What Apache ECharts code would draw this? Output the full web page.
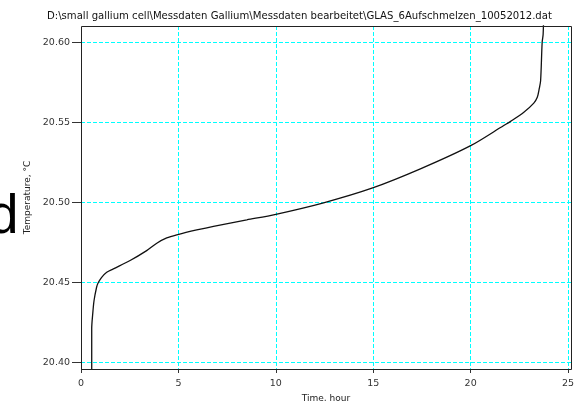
<!DOCTYPE html>
<html>
<head>
<meta charset="utf-8">
<title>GLAS_6Aufschmelzen_10052012</title>
<script src="https://cdn.jsdelivr.net/npm/echarts@6/dist/echarts.min.js"></script>
<style>
  html, body { margin: 0; padding: 0; background: #fff; }
  #chart { width: 574px; height: 401px; }
</style>
</head>
<body>
<div id="chart"></div>
<script>
// measured melting curve (time in hours, temperature in °C)
const timeHours = [
  0.55, 0.55, 0.60, 0.67, 0.80, 0.87, 1.06, 1.32, 1.66, 2.52,
  3.37, 3.89, 4.40, 4.97, 5.94, 6.80, 8.51, 10.0, 12.45, 14.97,
  17.42, 20.0, 21.7, 22.05, 22.73, 23.24, 23.42, 23.52, 23.59, 23.67,
  23.72, 23.75
]
const temperature = [
  20.39, 20.421, 20.430, 20.4386, 20.4469, 20.4494, 20.4531, 20.4563, 20.4584, 20.4636,
  20.4698, 20.4744, 20.4777, 20.4798, 20.4827, 20.485, 20.489, 20.4925, 20.4997, 20.509,
  20.5209, 20.5354, 20.548, 20.5506, 20.5563, 20.562, 20.5656, 20.571, 20.576, 20.60,
  20.605, 20.62
]

const titleText = 'D:\\small gallium cell\\Messdaten Gallium\\Messdaten bearbeitet\\GLAS_6Aufschmelzen_10052012.dat'

// plot frame
const gridLeft = 81
const gridTop = 26
const gridWidth = 490
const gridHeight = 343

const gridLine = { color: ['#00ffff'], type: 'dashed', width: 1 }

const chart = echarts.init(document.getElementById('chart'))

const option = {
  animation: false,
  backgroundColor: '#fff',
  textStyle: { fontFamily: 'DejaVu Sans' },
  title: {
    text: titleText,
    left: 42,
    top: 6,
    textStyle: { fontFamily: 'DejaVu Sans', fontSize: 10.1, fontWeight: 'normal', color: '#111' }
  },
  grid: {
    left: gridLeft,
    top: gridTop,
    width: gridWidth,
    height: gridHeight,
    containLabel: false,
    outerBoundsMode: 'none'
  },
  xAxis: {
    type: 'value',
    min: 0,
    max: 25.15,
    splitNumber: 5,
    name: 'Time, hour',
    nameLocation: 'middle',
    nameGap: 25,
    nameTextStyle: { fontSize: 9, color: '#222' },
    axisLine: { show: false },
    axisTick: { show: true, length: 4, lineStyle: { color: '#333' } },
    axisLabel: { fontSize: 9.5, color: '#333', margin: 10, showMaxLabel: false },
    splitLine: { show: true, showMinLine: false, showMaxLine: false, lineStyle: gridLine }
  },
  yAxis: {
    type: 'value',
    min: 20.3958,
    max: 20.6102,
    splitNumber: 4,
    name: 'Temperature, °C',
    nameLocation: 'middle',
    nameGap: 48,
    nameTextStyle: { fontSize: 9, color: '#222' },
    axisLine: { show: false },
    axisTick: { show: true, length: 9, lineStyle: { color: '#333' } },
    axisLabel: {
      fontSize: 9.5,
      color: '#333',
      margin: 11,
      showMinLabel: false,
      showMaxLabel: false,
      formatter: v => v.toFixed(2)
    },
    splitLine: { show: true, showMinLine: false, showMaxLine: false, lineStyle: gridLine }
  },
  series: [
    {
      type: 'line',
      data: timeHours.map((t, i) => [t, temperature[i]]),
      showSymbol: false,
      smooth: 0.3,
      clip: true,
      lineStyle: { color: '#111', width: 1.3 }
    }
  ],
  graphic: [
    {
      type: 'rect',
      z: 100,
      silent: true,
      shape: { x: gridLeft + 0.5, y: gridTop + 0.5, width: gridWidth, height: gridHeight },
      style: { fill: 'none', stroke: '#222', lineWidth: 1 }
    },
    {
      // panel letter, partly cut off at the left edge
      type: 'text',
      z: 100,
      left: -12,
      top: 190,
      style: { text: 'd', font: '55px "Liberation Sans"', fill: '#000' }
    }
  ]
}

chart.setOption(option)
</script>
</body>
</html>
